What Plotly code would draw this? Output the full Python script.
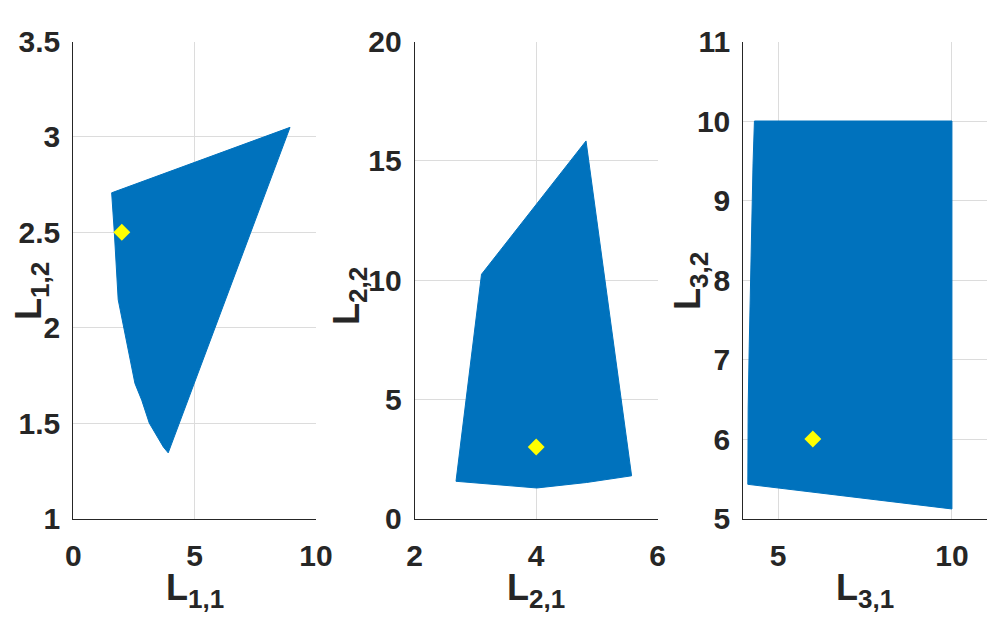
import plotly.graph_objects as go

# boundary of each feasible region
region1_x = [1.58, 8.93, 3.91, 3.71, 3.13, 2.82, 2.54, 2.27, 2.06, 1.85, 1.69, 1.58]
region1_y = [2.707, 3.05, 1.344, 1.375, 1.5, 1.62, 1.708, 1.882, 2.0, 2.147, 2.5, 2.707]

region2_x = [3.10, 4.82, 5.57, 4.83, 4.01, 3.19, 2.68, 3.10]
region2_y = [10.24, 15.83, 1.79, 1.51, 1.28, 1.44, 1.56, 10.24]

region3_x = [4.13, 4.14, 4.17, 4.20, 4.24, 4.28, 4.32, 10.0, 10.0, 4.13]
region3_y = [5.43, 6.39, 7.16, 7.93, 8.70, 9.46, 10.0, 10.0, 5.12, 5.43]

# nominal design point per panel
nominal_x = [2, 4, 6]
nominal_y = [2.5, 3, 6]

x_ranges = [[0, 10], [2, 6], [4, 11]]
y_ranges = [[1, 3.5], [0, 20], [5, 11]]
x_ticks = [[0, 5, 10], [2, 4, 6], [5, 10]]
y_ticks = [[1, 1.5, 2, 2.5, 3, 3.5], [0, 5, 10, 15, 20], [5, 6, 7, 8, 9, 10, 11]]
x_subs = ["1,1", "2,1", "3,1"]
y_subs = ["1,2", "2,2", "3,2"]

# page puts the plot 8px in from the top-left corner, so work in window pixels
OFF = 8
W, H = 1003 - OFF, 636 - OFF
x_dom = [[73.3, 316.0], [414.7, 657.7], [743.3, 986.7]]
y_dom = [41.5, 518.5]
y_title_px = [31, 349, 690]
y_title_mid = [291, 296, 281]

BLUE = "#0072BD"
TXT = "#262626"
FONT = "Liberation Sans, Arial, sans-serif"


def px_x(p):
    return (p - OFF) / W


def px_y(p):
    return 1 - (p - OFF) / H


def axis_label(sub):
    return "L<sub><span style='font-size:26px'>" + sub + "</span></sub>"


regions = [(region1_x, region1_y), (region2_x, region2_y), (region3_x, region3_y)]

fig = go.Figure()
annotations = []
for i, (rx, ry) in enumerate(regions):
    n = "" if i == 0 else str(i + 1)
    fig.add_trace(go.Scatter(x=rx, y=ry, mode="lines", fill="toself",
                             fillcolor=BLUE, line=dict(color=BLUE, width=1),
                             xaxis="x" + n, yaxis="y" + n, showlegend=False))
    fig.add_trace(go.Scatter(x=[nominal_x[i]], y=[nominal_y[i]], mode="markers",
                             marker=dict(symbol="diamond", size=13, color="#FFFF00"),
                             xaxis="x" + n, yaxis="y" + n, showlegend=False))
    common = dict(showgrid=True, gridcolor="#dcdcdc", gridwidth=1, zeroline=False,
                  showline=True, linecolor=TXT, linewidth=1, ticks="",
                  automargin=False,
                  tickfont=dict(family=FONT, size=30, color=TXT, weight="bold"))
    fig.layout["xaxis" + n] = dict(common, domain=[px_x(x_dom[i][0]), px_x(x_dom[i][1])],
                                   range=x_ranges[i], tickvals=x_ticks[i],
                                   anchor="y" + n, ticklabelstandoff=10)
    fig.layout["yaxis" + n] = dict(common, domain=[px_y(y_dom[1]), px_y(y_dom[0])],
                                   range=y_ranges[i], tickvals=y_ticks[i],
                                   anchor="x" + n, ticklabelstandoff=6)
    cx = (x_dom[i][0] + x_dom[i][1]) / 2
    annotations.append(dict(text=axis_label(x_subs[i]), x=px_x(cx), y=px_y(565),
                            xref="paper", yref="paper",
                            xanchor="center", yanchor="top", showarrow=False,
                            font=dict(family=FONT, size=36, color=TXT, weight="bold")))
    annotations.append(dict(text=axis_label(y_subs[i]), x=px_x(y_title_px[i]),
                            y=px_y(y_title_mid[i]),
                            xref="paper", yref="paper", xanchor="center", yanchor="middle",
                            textangle=-90, showarrow=False,
                            font=dict(family=FONT, size=36, color=TXT, weight="bold")))

fig.update_layout(width=W, height=H,
                  margin=dict(l=0, r=0, t=0, b=0, pad=0, autoexpand=False),
                  plot_bgcolor="white", paper_bgcolor="white",
                  annotations=annotations)

fig.write_html("out.html")
